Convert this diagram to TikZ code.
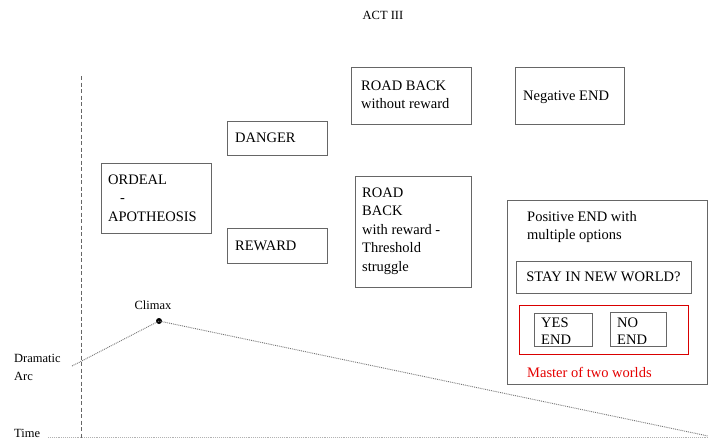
\documentclass[tikz,border=0pt]{standalone}
\usepackage{fontspec}
\setmainfont{Liberation Serif}
\begin{document}
\begin{tikzpicture}[x=1pt,y=-1pt,
  box/.style={draw=black!60, line width=0.8pt, rectangle, anchor=north west,
    inner sep=0pt, font=\fontsize{14.5}{18.5}\selectfont},
  boxtext/.style={anchor=north west, inner sep=0pt, align=left,
    font=\fontsize{14.5}{18.5}\selectfont},
  lbl/.style={inner sep=0pt, align=left, font=\fontsize{12.5}{18}\selectfont},
  arc/.style={densely dotted, draw=black!55, line width=0.9pt},
  axis/.style={dash pattern=on 4pt off 2.5pt, draw=black!60, line width=0.8pt}]
% canvas
\useasboundingbox (0,0) rectangle (708,439);
\fill[white] (0,0) rectangle (708,439);

% title
\node[lbl] (title) at (383,15) {ACT III};

% time divider
\coordinate (divtop) at (81,76);
\coordinate (divbot) at (81,439);
\draw[axis] (divtop) -- (divbot);

% axis labels
\node[lbl, anchor=west] (dram) at (14,367) {Dramatic\\Arc};
\node[lbl, anchor=west] (time) at (14,433) {Time};

% time axis
\coordinate (tstart) at (48,437);
\coordinate (tend) at (708,437);
\draw[densely dotted, draw=black!30, line width=0.9pt] (tstart) -- (tend);

% dramatic arc
\coordinate (arcstart) at (72,366);
\node[circle, fill=black, inner sep=0pt, minimum size=6pt] (climax) at (159,321) {};
\coordinate (arcend) at (708,436);
\node[lbl] (climaxlbl) at (153,305) {Climax};
\draw[arc] (arcstart) -- (climax.center) -- (arcend);

% stage boxes
\node[box, minimum width=110pt, minimum height=70pt] (ordeal) at (101,163) {};
\node[boxtext, anchor=west] (ordealtxt) at (108,198) {ORDEAL\\\hspace{12pt}-\\APOTHEOSIS};

\node[box, minimum width=100pt, minimum height=34pt] (danger) at (227,121) {};
\node[boxtext, anchor=west] (dangertxt) at (235,138) {DANGER};

\node[box, minimum width=100pt, minimum height=35pt] (reward) at (227,228) {};
\node[boxtext, anchor=west] (rewardtxt) at (235,246) {REWARD};

\node[box, minimum width=120pt, minimum height=57pt] (roadno) at (351,67) {};
\node[boxtext, anchor=west] (roadnotxt) at (361,95) {ROAD BACK\\without reward};

\node[box, minimum width=109pt, minimum height=57pt] (negend) at (515,67) {};
\node[boxtext, anchor=west] (negendtxt) at (523,97) {Negative END};

\node[box, minimum width=116pt, minimum height=111pt] (roadyes) at (355,176) {};
\node[boxtext, anchor=west] (roadyestxt) at (362,231)
  {ROAD\\BACK\\with reward -\\Threshold\\struggle};

% positive ending group
\node[box, minimum width=200pt, minimum height=184pt] (posend) at (507,200) {};
\node[boxtext] (posendtxt) at (527,211)
  {Positive END with\\multiple options};

\node[box, minimum width=175pt, minimum height=32pt] (stay) at (516,261) {};
\node[boxtext, anchor=center] (staytxt) at (603.5,277) {STAY IN NEW WORLD?};

\node[box, draw=red!85!black, minimum width=169pt, minimum height=49pt] (master) at (519,305) {};
\node[box, minimum width=58pt, minimum height=33pt] (yes) at (534,313) {};
\node[boxtext, anchor=west, font=\fontsize{14.5}{17}\selectfont] (yestxt) at (541,331) {YES\\END};
\node[box, minimum width=56pt, minimum height=34pt] (no) at (610,312) {};
\node[boxtext, anchor=west, font=\fontsize{14.5}{17}\selectfont] (notxt) at (617,331) {NO\\END};
\node[boxtext, anchor=west, text=red!90!black] (mastertxt) at (527,372) {Master of two worlds};
\end{tikzpicture}
\end{document}
